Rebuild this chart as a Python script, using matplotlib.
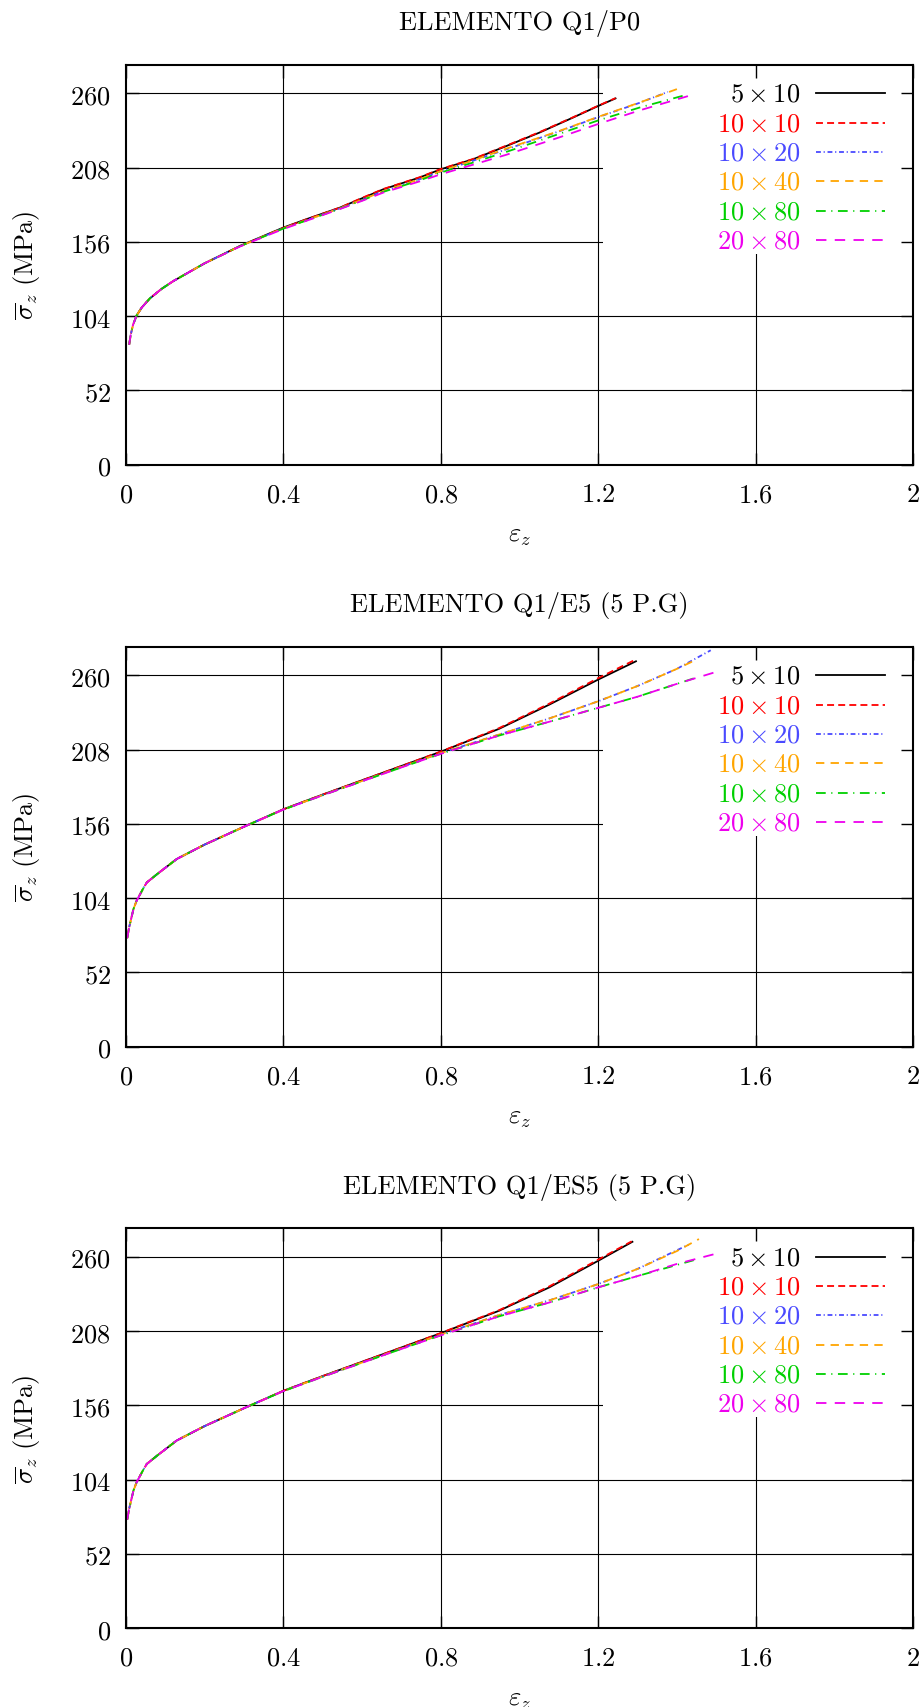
import matplotlib
matplotlib.use("Agg")
import matplotlib.pyplot as plt
from matplotlib.patches import Rectangle

plt.rcParams['mathtext.fontset'] = 'cm'
plt.rcParams['font.family'] = ['DejaVu Serif']
plt.rcParams['lines.scale_dashes'] = False

# ---------------- data ----------------
titles = ['ELEMENTO Q1/P0', 'ELEMENTO Q1/E5 (5 P.G)', 'ELEMENTO Q1/ES5 (5 P.G)']
series_labels = [r'5\times10', r'10\times10', r'10\times20', r'10\times40', r'10\times80', r'20\times80']
x_ticks = [0, 0.4, 0.8, 1.2, 1.6, 2]
x_tick_labels = ['0', '0.4', '0.8', '1.2', '1.6', '2']
y_ticks = [0, 52, 104, 156, 208, 260]
y_tick_labels = ['0', '52', '104', '156', '208', '260']

# Panel 1: Q1/P0
P0_5x10_x = [0.027, 0.04, 0.061, 0.09, 0.12, 0.2, 0.29, 0.4, 0.459, 0.544, 0.6, 0.654, 0.746, 0.8, 0.882, 0.967, 1.051, 1.136, 1.2, 1.244]
P0_5x10_y = [104.5, 110, 116.5, 123, 128.5, 141, 153.2, 166, 171.9, 180, 186.5, 192.8, 201, 206.8, 213.8, 223.1, 232.5, 243, 251.1, 256.4]
P0_10x10_x = [0.008, 0.012, 0.018, 0.027, 0.04, 0.061, 0.09, 0.12, 0.2, 0.29, 0.4, 0.459, 0.544, 0.6, 0.654, 0.746, 0.8, 0.882, 0.967, 1.051, 1.136, 1.2, 1.244]
P0_10x10_y = [84, 91, 98, 104.5, 110, 116.5, 123, 128.5, 141, 153, 165.8, 171.8, 180, 186.8, 193, 201.2, 207, 214, 223.4, 232.8, 243.2, 251.3, 256.6]
P0_10x20_x = [0.008, 0.012, 0.018, 0.027, 0.04, 0.061, 0.09, 0.12, 0.2, 0.29, 0.4, 0.459, 0.544, 0.6, 0.654, 0.746, 0.8, 0.882, 0.967, 1.1, 1.2, 1.305, 1.377]
P0_10x20_y = [84, 91, 98, 104.5, 110, 116.5, 123, 128.5, 141, 153, 165.5, 171.2, 179.5, 185.5, 191.5, 199.8, 205.3, 212.8, 220.8, 233.3, 243.3, 253.3, 261]
P0_10x40_x = [0.008, 0.012, 0.018, 0.027, 0.04, 0.061, 0.09, 0.12, 0.2, 0.29, 0.4, 0.459, 0.544, 0.6, 0.654, 0.746, 0.8, 0.882, 0.967, 1.1, 1.2, 1.305, 1.403]
P0_10x40_y = [84, 91, 98, 104.5, 110, 116.5, 123, 128.5, 141, 153, 165.5, 171.2, 179.5, 185.5, 191.5, 199.8, 205.5, 213, 221.3, 233.5, 243.5, 253.5, 263.2]
P0_10x80_x = [0.008, 0.012, 0.018, 0.027, 0.04, 0.061, 0.09, 0.12, 0.2, 0.29, 0.4, 0.459, 0.544, 0.6, 0.654, 0.746, 0.8, 0.882, 0.967, 1.1, 1.2, 1.305, 1.428]
P0_10x80_y = [84, 91, 98, 104.5, 110, 116.5, 123, 128.5, 141, 153, 165.3, 171, 179.2, 185, 191, 199, 204.5, 211.5, 219, 231.5, 241, 250, 259.2]
P0_20x80_x = [0.008, 0.012, 0.018, 0.027, 0.04, 0.061, 0.09, 0.12, 0.2, 0.29, 0.4, 0.459, 0.544, 0.6, 0.654, 0.746, 0.8, 0.882, 0.967, 1.1, 1.2, 1.305, 1.428]
P0_20x80_y = [84, 91, 98, 104.5, 110, 116.5, 123, 128.5, 141, 152.8, 165, 170.8, 179, 184.7, 190.5, 198.3, 203.3, 210, 217, 229, 238.5, 248, 258]

# Panel 2: Q1/E5
E5_5x10_x = [0.053, 0.08, 0.129, 0.2, 0.3, 0.4, 0.5, 0.6, 0.7, 0.8, 0.948, 1.076, 1.2, 1.296]
E5_5x10_y = [115, 121, 131.4, 141.5, 154, 166.2, 176.5, 186.5, 196.5, 206.5, 222.5, 239.5, 257, 269.8]
E5_10x10_x = [0.003, 0.008, 0.019, 0.027, 0.044, 0.053, 0.08, 0.129, 0.2, 0.3, 0.4, 0.5, 0.6, 0.7, 0.8, 0.948, 1.076, 1.2, 1.29]
E5_10x10_y = [76, 83.6, 96.4, 102.2, 110.9, 115, 121, 131.4, 141.5, 154, 166.2, 176.5, 186.5, 196.5, 206.6, 223, 240.2, 258, 270.3]
E5_10x20_x = [0.003, 0.008, 0.019, 0.027, 0.044, 0.053, 0.08, 0.129, 0.2, 0.3, 0.4, 0.5, 0.6, 0.7, 0.8, 0.948, 1.076, 1.2, 1.3, 1.4, 1.486]
E5_10x20_y = [76, 83.6, 96.4, 102.2, 110.9, 115, 121, 131.4, 141.5, 154, 166, 176.2, 186, 195.8, 205.5, 218.5, 229.8, 241.8, 252.5, 264.5, 277.5]
E5_10x40_x = [0.003, 0.008, 0.019, 0.027, 0.044, 0.053, 0.08, 0.129, 0.2, 0.3, 0.4, 0.5, 0.6, 0.7, 0.8, 0.948, 1.076, 1.2, 1.3, 1.4, 1.45]
E5_10x40_y = [76, 83.6, 96.4, 102.2, 110.9, 115, 121, 131.4, 141.5, 154, 166, 176.2, 186, 195.8, 205.5, 218.5, 229.8, 241.8, 252.5, 264.5, 271]
E5_10x80_x = [0.003, 0.008, 0.019, 0.027, 0.044, 0.053, 0.08, 0.129, 0.2, 0.3, 0.4, 0.5, 0.6, 0.7, 0.8, 0.948, 1.076, 1.2, 1.3, 1.447]
E5_10x80_y = [76, 83.6, 96.4, 102.2, 110.9, 115, 121, 131.4, 141.5, 154, 166, 176, 185.8, 195.5, 205, 217.8, 227.5, 237.2, 245, 258.2]
E5_20x80_x = [0.003, 0.008, 0.019, 0.027, 0.044, 0.053, 0.08, 0.129, 0.2, 0.3, 0.4, 0.5, 0.6, 0.7, 0.8, 0.948, 1.076, 1.2, 1.3, 1.4, 1.505]
E5_20x80_y = [76, 83.6, 96.4, 102.2, 110.9, 115, 121, 131.4, 141.5, 154, 166, 176, 185.8, 195.5, 205, 217.8, 227.5, 237.2, 245, 254, 262.8]

# Panel 3: Q1/ES5
ES5_5x10_x = [0.053, 0.08, 0.129, 0.2, 0.3, 0.4, 0.5, 0.6, 0.7, 0.8, 0.948, 1.076, 1.2, 1.287]
ES5_5x10_y = [115, 121, 131.4, 141.5, 154, 166.2, 176.5, 186.5, 196.5, 206.5, 222.2, 238.6, 257.2, 270.5]
ES5_10x10_x = [0.003, 0.008, 0.019, 0.027, 0.044, 0.053, 0.08, 0.129, 0.2, 0.3, 0.4, 0.5, 0.6, 0.7, 0.8, 0.948, 1.076, 1.2, 1.285]
ES5_10x10_y = [76, 83.6, 96.4, 102.2, 110.9, 115, 121, 131.4, 141.5, 154, 166.2, 176.5, 186.5, 196.5, 206.6, 222.6, 239.3, 258, 270.8]
ES5_10x20_x = [0.003, 0.008, 0.019, 0.027, 0.044, 0.053, 0.08, 0.129, 0.2, 0.3, 0.4, 0.5, 0.6, 0.7, 0.8, 0.948, 1.076, 1.2, 1.3, 1.43]
ES5_10x20_y = [76, 83.6, 96.4, 102.2, 110.9, 115, 121, 131.4, 141.5, 154, 166, 176.2, 186, 195.8, 205.5, 219.2, 229.5, 240.9, 251.5, 268.5]
ES5_10x40_x = [0.003, 0.008, 0.019, 0.027, 0.044, 0.053, 0.08, 0.129, 0.2, 0.3, 0.4, 0.5, 0.6, 0.7, 0.8, 0.948, 1.076, 1.2, 1.3, 1.4, 1.456]
ES5_10x40_y = [76, 83.6, 96.4, 102.2, 110.9, 115, 121, 131.4, 141.5, 154, 166, 176.2, 186, 195.8, 205.5, 219.2, 229.5, 240.9, 251.5, 264, 272.4]
ES5_10x80_x = [0.003, 0.008, 0.019, 0.027, 0.044, 0.053, 0.08, 0.129, 0.2, 0.3, 0.4, 0.5, 0.6, 0.7, 0.8, 0.948, 1.076, 1.2, 1.3, 1.453]
ES5_10x80_y = [76, 83.6, 96.4, 102.2, 110.9, 115, 121, 131.4, 141.5, 154, 166, 176, 185.8, 195.5, 205, 218.3, 228, 238.6, 246.5, 258.4]
ES5_20x80_x = [0.003, 0.008, 0.019, 0.027, 0.044, 0.053, 0.08, 0.129, 0.2, 0.3, 0.4, 0.5, 0.6, 0.7, 0.8, 0.948, 1.076, 1.2, 1.3, 1.4, 1.503]
ES5_20x80_y = [76, 83.6, 96.4, 102.2, 110.9, 115, 121, 131.4, 141.5, 154, 166, 176, 185.8, 195.5, 205, 218.3, 228, 238.6, 246.5, 255, 262.4]

panels = [
    [(P0_5x10_x, P0_5x10_y), (P0_10x10_x, P0_10x10_y), (P0_10x20_x, P0_10x20_y),
     (P0_10x40_x, P0_10x40_y), (P0_10x80_x, P0_10x80_y), (P0_20x80_x, P0_20x80_y)],
    [(E5_5x10_x, E5_5x10_y), (E5_10x10_x, E5_10x10_y), (E5_10x20_x, E5_10x20_y),
     (E5_10x40_x, E5_10x40_y), (E5_10x80_x, E5_10x80_y), (E5_20x80_x, E5_20x80_y)],
    [(ES5_5x10_x, ES5_5x10_y), (ES5_10x10_x, ES5_10x10_y), (ES5_10x20_x, ES5_10x20_y),
     (ES5_10x40_x, ES5_10x40_y), (ES5_10x80_x, ES5_10x80_y), (ES5_20x80_x, ES5_20x80_y)],
]

# ---------------- style ----------------
colors = ['#000000', '#ff0000', '#4a4aff', '#ffa500', '#00d000', '#ee00ee']
styles = ['-', (0, (5, 3)), (0, (3.5, 2, 0.8, 2)), (0, (6, 4.5)), (0, (7, 4, 0.8, 4)), (0, (7.5, 6))]
FS = 19

fig = plt.figure(figsize=(9.24, 17.08), dpi=100)
left, width, height = 126 / 924, 787 / 924, 400 / 1708
bottoms = [1 - 465.7 / 1708, 1 - 1047.7 / 1708, 1 - 1629.2 / 1708]

for pi, (title, series) in enumerate(zip(titles, panels)):
    ax = fig.add_axes([left, bottoms[pi], width, height])
    ax.set_xlim(0, 2)
    ax.set_ylim(0, 280)

    # grid
    for yv in y_ticks[1:]:
        ax.axhline(yv, color='black', lw=0.8, zorder=0.5)
    for xv in x_ticks[1:-1]:
        ax.axvline(xv, color='black', lw=0.8, zorder=0.5)

    # opaque key box
    ax.add_patch(Rectangle((0.606, 0.527), 0.394, 0.473, transform=ax.transAxes,
                           facecolor='white', edgecolor='none', zorder=1))

    for (xs, ys), c, ls in zip(series, colors, styles):
        ax.plot(xs, ys, color=c, linestyle=ls, lw=1.3, zorder=3)

    # key
    for i, (lab, c, ls) in enumerate(zip(series_labels, colors, styles)):
        yy = 0.9286 - i * 0.0733
        ax.text(0.857, yy, '$' + lab + '$', color=c, fontsize=FS, ha='right', va='center',
                transform=ax.transAxes, zorder=4)
        ax.plot([0.877, 0.964], [yy, yy], color=c, linestyle=ls, lw=1.3,
                transform=ax.transAxes, zorder=4)

    ax.set_xticks(x_ticks, labels=['$' + t + '$' for t in x_tick_labels])
    ax.set_yticks(y_ticks, labels=['$' + t + '$' for t in y_tick_labels])
    ax.tick_params(direction='in', length=9, width=1, top=True, right=True,
                   labelsize=FS, zorder=5)
    ax.tick_params(axis='x', pad=12)
    ax.tick_params(axis='y', pad=11)
    for sp in ax.spines.values():
        sp.set_linewidth(1.5)
        sp.set_zorder(5)

    ax.text(0.5, 1.105, title, fontsize=FS, family='cmr10',
            ha='center', va='center', transform=ax.transAxes)
    ax.text(0.5, -0.175, r'$\varepsilon_z$', fontsize=FS, ha='center', va='center',
            transform=ax.transAxes)
    ax.text(-0.1258, 0.5, r'$\overline{\sigma}_z\ \mathrm{(MPa)}$', fontsize=FS, rotation=90,
            ha='center', va='center', transform=ax.transAxes)

fig.savefig('out.png', dpi=100)
